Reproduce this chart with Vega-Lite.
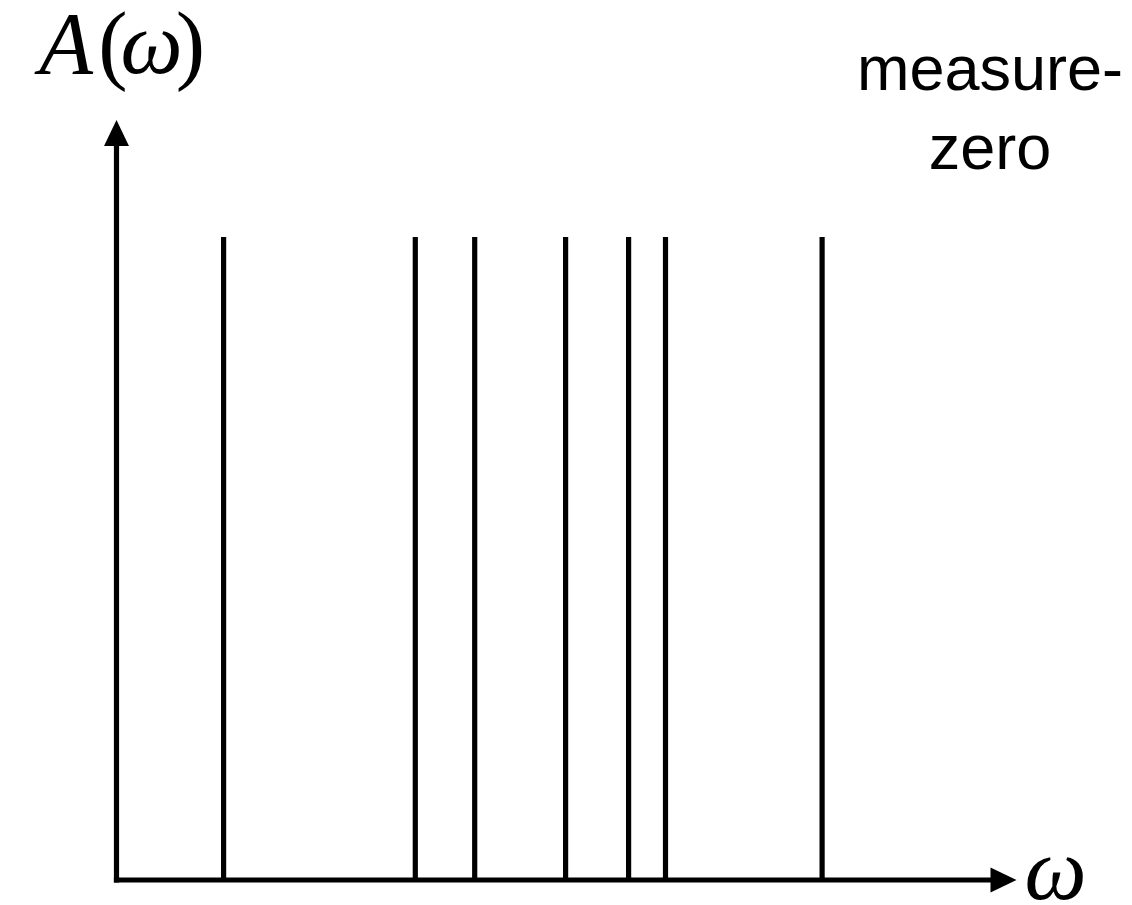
{
  "$schema": "https://vega.github.io/schema/vega-lite/v6.json",
  "width": 1132,
  "height": 905,
  "autosize": "none",
  "padding": 0,
  "background": "white",
  "config": {"view": {"stroke": null}},
  "datasets": {
    "spectrum": [
      {"omega": 1.19, "A": 8.46},
      {"omega": 3.32, "A": 8.46},
      {"omega": 3.98, "A": 8.46},
      {"omega": 4.99, "A": 8.46},
      {"omega": 5.69, "A": 8.46},
      {"omega": 6.1, "A": 8.46},
      {"omega": 7.84, "A": 8.46}
    ],
    "arrows": [
      {"omega": 0, "A": 10, "dir": "up"},
      {"omega": 10, "A": 0, "dir": "right"}
    ],
    "titleItalic": [
      {"omega": -0.56, "A": 10.62, "text": "A"},
      {"omega": 0.39, "A": 10.62, "text": "ω"},
      {"omega": 10.433, "A": -0.25, "text": "ω"}
    ],
    "titleUpright": [
      {"omega": -0.04, "A": 10.62, "text": "("},
      {"omega": 0.82, "A": 10.62, "text": ")"}
    ],
    "note": [
      {"omega": 9.706, "A": 10.395, "text": "measure-"},
      {"omega": 9.706, "A": 9.355, "text": "zero"}
    ]
  },
  "layer": [
    {
      "description": "vertical axis line",
      "data": {"values": [{}]},
      "mark": {"type": "rule", "color": "black", "strokeWidth": 5.2, "strokeCap": "square"},
      "encoding": {
        "x": {"datum": 0, "type": "quantitative", "scale": {"domain": [-1.2944, 11.2833], "nice": false, "zero": false}, "axis": null},
        "y": {"datum": 0, "type": "quantitative", "scale": {"domain": [-0.3289, 11.5789], "nice": false, "zero": false}, "axis": null},
        "y2": {"datum": 9.8}
      }
    },
    {
      "description": "horizontal axis line",
      "data": {"values": [{}]},
      "mark": {"type": "rule", "color": "black", "strokeWidth": 5.2, "strokeCap": "square"},
      "encoding": {
        "x": {"datum": 0, "type": "quantitative"},
        "x2": {"datum": 9.8},
        "y": {"datum": 0, "type": "quantitative"}
      }
    },
    {
      "description": "delta peaks of the spectral function",
      "data": {"name": "spectrum"},
      "mark": {"type": "rule", "color": "black", "strokeWidth": 5.2},
      "encoding": {
        "x": {"field": "omega", "type": "quantitative"},
        "y": {"field": "A", "type": "quantitative"},
        "y2": {"datum": 0}
      }
    },
    {
      "description": "arrowheads",
      "data": {"name": "arrows"},
      "mark": {"type": "point", "filled": true, "color": "black", "opacity": 1, "strokeWidth": 0, "size": 676},
      "encoding": {
        "x": {"field": "omega", "type": "quantitative"},
        "y": {"field": "A", "type": "quantitative"},
        "shape": {
          "field": "dir",
          "type": "nominal",
          "legend": null,
          "scale": {
            "domain": ["up", "right"],
            "range": ["M0,0L-0.96,2L0.96,2Z", "M0,0L-2,-0.96L-2,0.96Z"]
          }
        }
      }
    },
    {
      "description": "axis symbols set in math italic",
      "data": {"name": "titleItalic"},
      "mark": {"type": "text", "font": "Liberation Serif", "fontStyle": "italic", "fontSize": 88, "align": "center", "baseline": "alphabetic", "color": "black"},
      "encoding": {
        "x": {"field": "omega", "type": "quantitative"},
        "y": {"field": "A", "type": "quantitative"},
        "text": {"field": "text"}
      }
    },
    {
      "description": "upright parentheses of A(ω)",
      "data": {"name": "titleUpright"},
      "mark": {"type": "text", "font": "Liberation Serif", "fontSize": 88, "align": "center", "baseline": "alphabetic", "color": "black"},
      "encoding": {
        "x": {"field": "omega", "type": "quantitative"},
        "y": {"field": "A", "type": "quantitative"},
        "text": {"field": "text"}
      }
    },
    {
      "description": "annotation",
      "data": {"name": "note"},
      "mark": {"type": "text", "font": "Liberation Sans", "fontSize": 63, "align": "center", "baseline": "alphabetic", "color": "black"},
      "encoding": {
        "x": {"field": "omega", "type": "quantitative"},
        "y": {"field": "A", "type": "quantitative"},
        "text": {"field": "text"}
      }
    }
  ]
}
